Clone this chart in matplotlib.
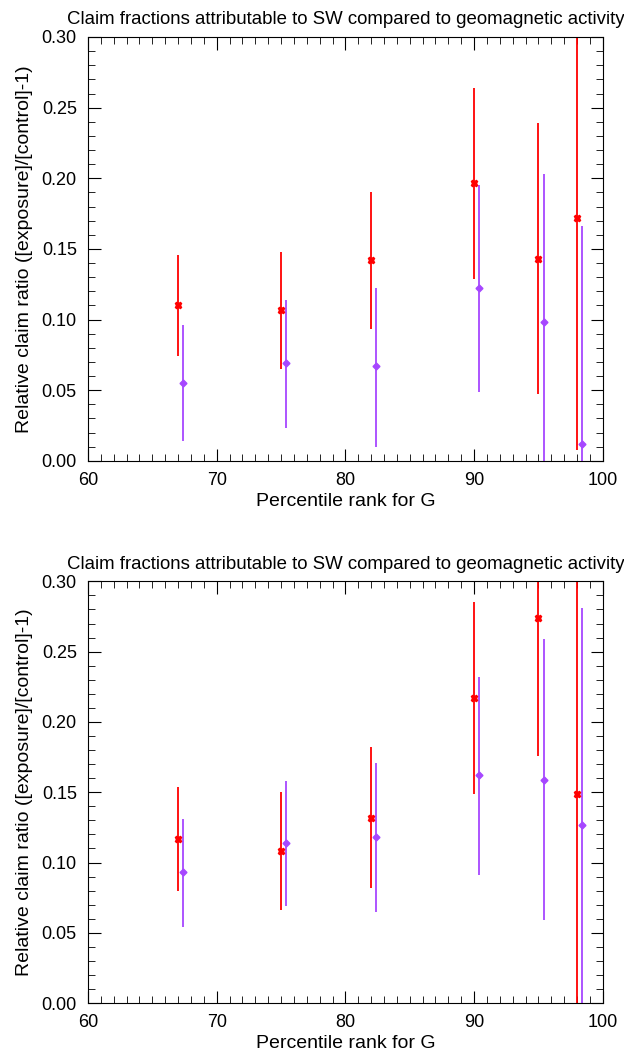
import matplotlib
matplotlib.use('Agg')
import matplotlib.pyplot as plt
from matplotlib.ticker import MultipleLocator, FormatStrFormatter

plt.rcParams['font.family'] = ['Liberation Sans', 'DejaVu Sans']

# percentile ranks; the second series is shifted a bit to the right
rankRed = [67, 75, 82, 90, 95, 98]
rankPurple = [67.4, 75.4, 82.4, 90.4, 95.4, 98.4]

# upper panel
topRed = [0.110, 0.107, 0.142, 0.197, 0.143, 0.172]
topRedLo = [0.074, 0.065, 0.093, 0.129, 0.047, 0.008]
topRedHi = [0.146, 0.148, 0.190, 0.264, 0.239, 0.336]
topPurple = [0.055, 0.069, 0.067, 0.122, 0.098, 0.012]
topPurpleLo = [0.014, 0.023, 0.010, 0.049, -0.007, -0.142]
topPurpleHi = [0.096, 0.114, 0.122, 0.195, 0.203, 0.166]

# lower panel
botRed = [0.117, 0.108, 0.132, 0.217, 0.274, 0.149]
botRedLo = [0.080, 0.066, 0.082, 0.149, 0.176, -0.070]
botRedHi = [0.154, 0.150, 0.182, 0.285, 0.372, 0.368]
botPurple = [0.093, 0.114, 0.118, 0.162, 0.159, 0.127]
botPurpleLo = [0.054, 0.069, 0.065, 0.091, 0.059, -0.027]
botPurpleHi = [0.131, 0.158, 0.171, 0.232, 0.259, 0.281]

red = '#ff0000'
purple = '#a647ff'


def drawPanel(ax, ys, lo, hi, yp, plo, phi):
    errR = [[y - l for y, l in zip(ys, lo)], [h - y for y, h in zip(ys, hi)]]
    errP = [[y - l for y, l in zip(yp, plo)], [h - y for y, h in zip(yp, phi)]]
    ax.errorbar(rankRed, ys, yerr=errR, fmt='X', color=red, ms=5,
                elinewidth=1.3, capsize=0)
    ax.errorbar(rankPurple, yp, yerr=errP, fmt='D', color=purple, ms=3.5,
                elinewidth=1.3, capsize=0)
    ax.set_xlim(60, 100)
    ax.set_ylim(0, 0.3)
    ax.xaxis.set_major_locator(MultipleLocator(10))
    ax.xaxis.set_minor_locator(MultipleLocator(1))
    ax.yaxis.set_major_locator(MultipleLocator(0.05))
    ax.yaxis.set_minor_locator(MultipleLocator(0.01))
    ax.yaxis.set_major_formatter(FormatStrFormatter('%.2f'))
    ax.tick_params(which='both', direction='in', top=True, right=True,
                   labelsize=13)
    ax.tick_params(axis='x', which='major', pad=8)
    ax.tick_params(axis='y', which='major', pad=8)
    ax.tick_params(which='major', length=9)
    ax.tick_params(which='minor', length=5)
    ax.set_title('Claim fractions attributable to SW compared to geomagnetic activity',
                 fontsize=13.4, pad=9)
    ax.set_xlabel('Percentile rank for G', fontsize=14, labelpad=3)
    ax.set_ylabel('Relative claim ratio ([exposure]/[control]-1)', fontsize=14,
                  labelpad=6)


fig = plt.figure(figsize=(6.24, 10.57), dpi=100)
ax1 = fig.add_axes([0.141, 0.564, 0.825, 0.401])
ax2 = fig.add_axes([0.141, 0.051, 0.825, 0.399])
drawPanel(ax1, topRed, topRedLo, topRedHi, topPurple, topPurpleLo, topPurpleHi)
drawPanel(ax2, botRed, botRedLo, botRedHi, botPurple, botPurpleLo, botPurpleHi)

fig.savefig('out.png', dpi=100)
